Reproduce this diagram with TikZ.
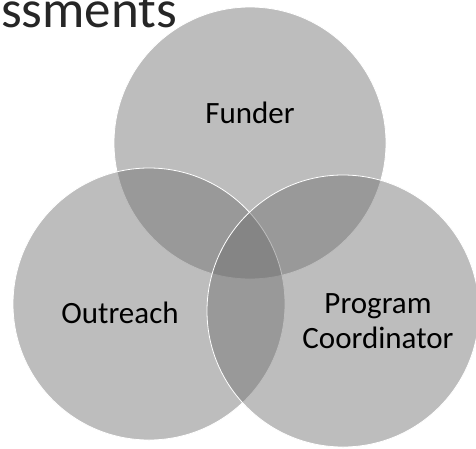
\documentclass[tikz,border=0pt]{standalone}
\usepackage{fontspec}
\setmainfont{Carlito}
\begin{document}
\begin{tikzpicture}[x=1pt,y=-1pt,
  venn/.style={fill=black!57, fill opacity=0.45, draw=white, draw opacity=1, line width=0.8pt},
  lbl/.style={font=\fontsize{31}{35}\selectfont, text=black, align=center, inner sep=0pt}]
\useasboundingbox (0,0) rectangle (476,448);
\clip (0,0) rectangle (476,448);
\fill[white] (0,0) rectangle (476,448);
\node[font=\fontsize{53}{58}\selectfont, anchor=base west, inner sep=0pt, text=black!85] (title) at (1,27) {ssments};
\path[venn] (250,143) circle[radius=136pt];
\path[venn] (149,304) circle[radius=136pt];
\path[venn] (343,311) circle[radius=136pt];
\node[lbl, anchor=base] (funder) at (250,123) {Funder};
\node[lbl, anchor=base] (outreach) at (120,323) {Outreach};
\node[lbl, anchor=base] (prog) at (378,313) {Program};
\node[lbl, anchor=base] (coord) at (378,348) {Coordinator};
\end{tikzpicture}
\end{document}
